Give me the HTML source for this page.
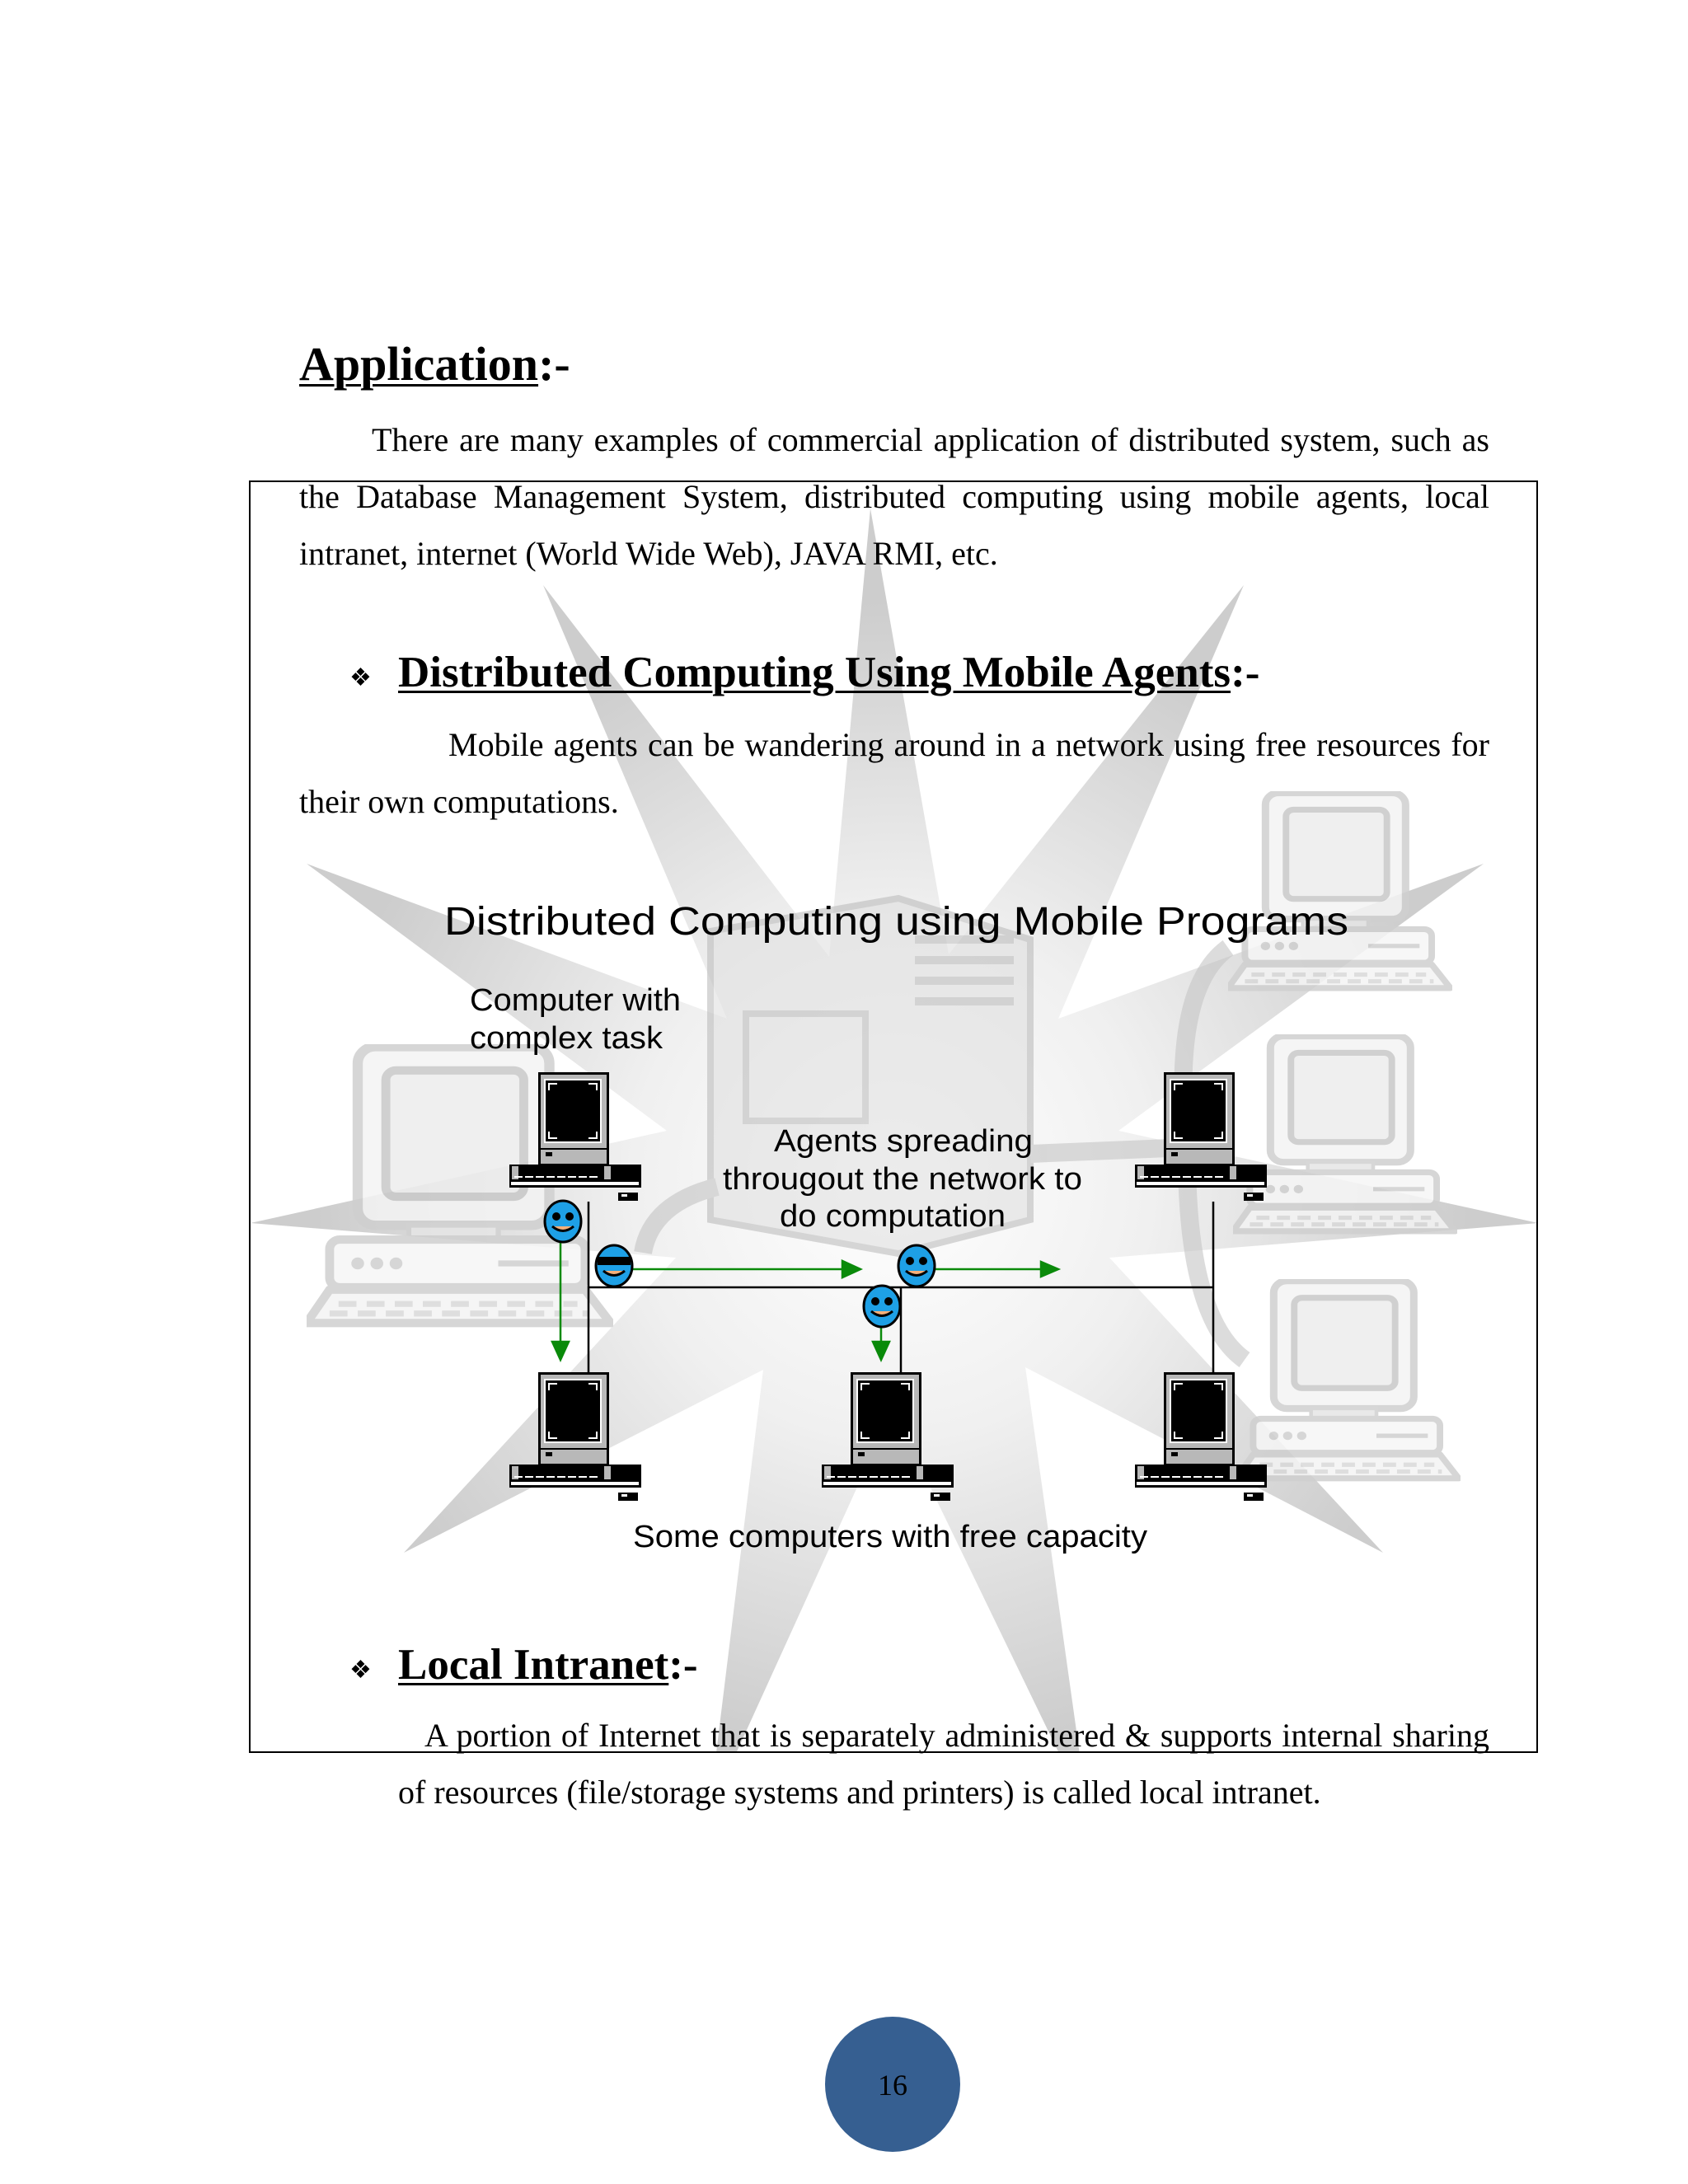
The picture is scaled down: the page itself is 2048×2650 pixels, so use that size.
<!DOCTYPE html>
<html><head><meta charset="utf-8">
<style>
html,body{margin:0;padding:0;background:#fff;}
#pg{position:relative;width:2048px;height:2650px;overflow:hidden;background:#fff;font-family:"Liberation Serif",serif;color:#000;}
.t{position:absolute;font-size:40px;line-height:44px;white-space:nowrap;}
.j{text-align:justify;text-align-last:justify;white-space:normal;}
.h{position:absolute;font-weight:bold;white-space:nowrap;}
u{text-decoration-thickness:3px;text-underline-offset:5px;}
svg{position:absolute;left:0;top:0;}
</style></head><body><div id="pg">
<svg width="2048" height="2650" viewBox="0 0 2048 2650">
<defs>
<radialGradient id="sg" cx="1083" cy="1430" r="700" gradientUnits="userSpaceOnUse">
<stop offset="0" stop-color="#ffffff"/><stop offset="0.45" stop-color="#f0f0f0"/><stop offset="1" stop-color="#cdcdcd"/>
</radialGradient>
<clipPath id="fr"><rect x="303" y="584" width="1562" height="1542"/></clipPath>
<symbol id="fc" viewBox="0 0 240 240" preserveAspectRatio="none">
<rect x="40" y="2" width="150" height="150" rx="14" fill="#f4f4f4" stroke="#cfcfcf" stroke-width="8"/>
<rect x="62" y="22" width="108" height="106" rx="8" fill="#ececec" stroke="#c8c8c8" stroke-width="7"/>
<rect x="80" y="152" width="70" height="14" fill="#e6e6e6" stroke="#d0d0d0" stroke-width="4"/>
<rect x="18" y="164" width="200" height="40" rx="8" fill="#f6f6f6" stroke="#cfcfcf" stroke-width="7"/>
<circle cx="40" cy="184" r="5" fill="#cfcfcf"/><circle cx="55" cy="184" r="5" fill="#cfcfcf"/><circle cx="70" cy="184" r="5" fill="#cfcfcf"/>
<line x1="150" y1="184" x2="205" y2="184" stroke="#cfcfcf" stroke-width="5"/>
<path d="M18 206 L218 206 L238 234 L0 234 Z" fill="#f4f4f4" stroke="#cfcfcf" stroke-width="7" stroke-linejoin="round"/>
<path d="M25 218 H212 M18 226 H220" stroke="#d8d8d8" stroke-width="5" stroke-dasharray="14 8"/>
</symbol>
<symbol id="mac" viewBox="0 0 160 160">
<rect x="35" y="0" width="86" height="113" fill="#000"/>
<rect x="38" y="3" width="80" height="108" fill="#b8b8b8"/>
<rect x="42" y="8" width="70" height="78" fill="#fff"/>
<rect x="44" y="10" width="66" height="74" fill="#000"/>
<path d="M48 22 V14 H58 M96 14 H106 V22 M48 72 V80 H58 M96 80 H106 V72" stroke="#fff" stroke-width="2" fill="none"/>
<line x1="38" y1="93" x2="118" y2="93" stroke="#000" stroke-width="2"/>
<rect x="44" y="97" width="8" height="5" fill="#000"/>
<rect x="0" y="112" width="160" height="28" fill="#000"/>
<rect x="3" y="114" width="8" height="16" fill="#b8b8b8"/>
<rect x="115" y="114" width="8" height="16" fill="#b8b8b8"/>
<path d="M6 127 H110" stroke="#fff" stroke-width="2" stroke-dasharray="10 3"/>
<rect x="2" y="133" width="155" height="4" fill="#fff"/>
<rect x="132" y="146" width="24" height="10" fill="#000"/>
<rect x="136" y="148" width="7" height="3" fill="#fff"/>
</symbol>
<symbol id="sm" viewBox="0 0 48 54">
<ellipse cx="24" cy="27" rx="22" ry="25" fill="#1ea0e6" stroke="#000" stroke-width="3"/>
<circle cx="16" cy="21" r="5" fill="#000"/><circle cx="32" cy="21" r="5" fill="#000"/>
<path d="M11 33 Q24 44 37 33" stroke="#000" stroke-width="3" fill="#f5b07a"/>
</symbol>
<symbol id="sg2" viewBox="0 0 48 54">
<ellipse cx="24" cy="27" rx="22" ry="25" fill="#1ea0e6" stroke="#000" stroke-width="3"/>
<rect x="4" y="16" width="40" height="10" fill="#000"/>
<path d="M11 33 Q24 44 37 33" stroke="#000" stroke-width="3" fill="#f5b07a"/>
</symbol>
</defs>
<g clip-path="url(#fr)">
<polygon fill="url(#sg)" points="304,1484 809,1372 372,1048 882,1236 659,710 1006,1161 1056,617 1151,1158 1509,710 1284,1236 1800,1048 1357,1372 1866,1484 1346,1526 1678,1884 1244,1659 1320,2200 1083,1710 860,2200 926,1662 490,1884 820,1526"/>
<g opacity="0.6">
<path d="M862 1130 L1090 1090 L1250 1140 L1250 1480 L1090 1521 L862 1480 Z" fill="#e0e0e0" stroke="#bdbdbd" stroke-width="8"/>
<rect x="905" y="1230" width="145" height="130" fill="none" stroke="#bdbdbd" stroke-width="8"/>
<path d="M1110 1140 H1230 M1110 1165 H1230 M1110 1190 H1230 M1110 1215 H1230" stroke="#bdbdbd" stroke-width="10"/>
<path d="M780 1520 Q790 1460 870 1440 M1250 1400 L1490 1390 M1490 1150 Q1420 1200 1440 1400 Q1440 1600 1510 1650" fill="none" stroke="#c4c4c4" stroke-width="22"/>
</g>
<g opacity="0.85">
<use href="#fc" x="372" y="1267" width="372" height="347"/>
<use href="#fc" x="1490" y="960" width="272" height="245"/>
<use href="#fc" x="1496" y="1255" width="272" height="245"/>
<use href="#fc" x="1500" y="1552" width="272" height="248"/>
</g>
</g>
<rect x="303" y="584" width="1562" height="1542" fill="none" stroke="#000" stroke-width="2"/>
<g stroke="#000" stroke-width="2.5" fill="none">
<path d="M714 1458 V1665 M714 1562 H1472 M1093 1562 V1665 M1472 1458 V1665"/>
</g>
<g stroke="#0a8a0a" stroke-width="2.5" fill="#0a8a0a">
<line x1="680" y1="1500" x2="680" y2="1630"/><polygon points="670,1628 690,1628 680,1650"/>
<line x1="768" y1="1540" x2="1024" y2="1540"/><polygon points="1022,1530 1022,1550 1044,1540"/>
<line x1="1135" y1="1540" x2="1265" y2="1540"/><polygon points="1263,1531 1263,1549 1284,1540"/>
<line x1="1069" y1="1605" x2="1069" y2="1630"/><polygon points="1059,1628 1079,1628 1069,1650"/>
</g>
<use href="#mac" x="618" y="1301" width="160" height="160"/>
<use href="#mac" x="1377" y="1301" width="160" height="160"/>
<use href="#mac" x="618" y="1665" width="160" height="160"/>
<use href="#mac" x="997" y="1665" width="160" height="160"/>
<use href="#mac" x="1377" y="1665" width="160" height="160"/>
<use href="#sm" x="659" y="1455" width="48" height="54"/>
<use href="#sg2" x="721" y="1509" width="48" height="54"/>
<use href="#sm" x="1088" y="1509" width="48" height="54"/>
<use href="#sm" x="1046" y="1558" width="48" height="54"/>
<g font-family="Liberation Sans, Arial, sans-serif" fill="#000">
<text x="539" y="1134" font-size="48" textLength="1097" lengthAdjust="spacingAndGlyphs">Distributed Computing using Mobile Programs</text>
<text x="570" y="1226" font-size="38" textLength="256" lengthAdjust="spacingAndGlyphs">Computer with</text>
<text x="570" y="1272" font-size="38" textLength="234" lengthAdjust="spacingAndGlyphs">complex task</text>
<text x="1096" y="1397" font-size="38" text-anchor="middle" textLength="314" lengthAdjust="spacingAndGlyphs">Agents spreading</text>
<text x="1095" y="1443" font-size="38" text-anchor="middle" textLength="436" lengthAdjust="spacingAndGlyphs">througout the network to</text>
<text x="1083" y="1488" font-size="38" text-anchor="middle" textLength="274" lengthAdjust="spacingAndGlyphs">do computation</text>
<text x="1080" y="1877" font-size="38" text-anchor="middle" textLength="624" lengthAdjust="spacingAndGlyphs">Some computers with free capacity</text>
</g>
<circle cx="1083" cy="2529" r="82" fill="#365f91"/>
<text x="1083" y="2542" font-family="Liberation Serif, serif" font-size="36" text-anchor="middle" fill="#000">16</text>
</svg>

<div class="h" style="left:363px;top:408px;font-size:58px;"><u>Application</u>:-</div>
<div class="t j" style="left:451px;top:512px;width:1356px;">There are many examples of commercial application of distributed system, such as</div>
<div class="t j" style="left:363px;top:581px;width:1444px;">the Database Management System, distributed computing using mobile agents, local</div>
<div class="t" style="left:363px;top:650px;">intranet, internet (World Wide Web), JAVA RMI, etc.</div>

<div class="t" style="left:424px;top:801px;font-size:30px;">&#x2756;</div>
<div class="h" style="left:483px;top:786px;font-size:53px;"><u>Distributed Computing Using Mobile Agents</u>:-</div>
<div class="t j" style="left:544px;top:882px;width:1263px;">Mobile agents can be wandering around in a network using free resources for</div>
<div class="t" style="left:363px;top:951px;">their own computations.</div>

<div class="t" style="left:424px;top:2005px;font-size:30px;">&#x2756;</div>
<div class="h" style="left:483px;top:1990px;font-size:53px;"><u>Local Intranet</u>:-</div>
<div class="t j" style="left:515px;top:2084px;width:1292px;">A portion of Internet that is separately administered &amp; supports internal sharing</div>
<div class="t" style="left:483px;top:2153px;">of resources (file/storage systems and printers) is called local intranet.</div>
</div></body></html>
